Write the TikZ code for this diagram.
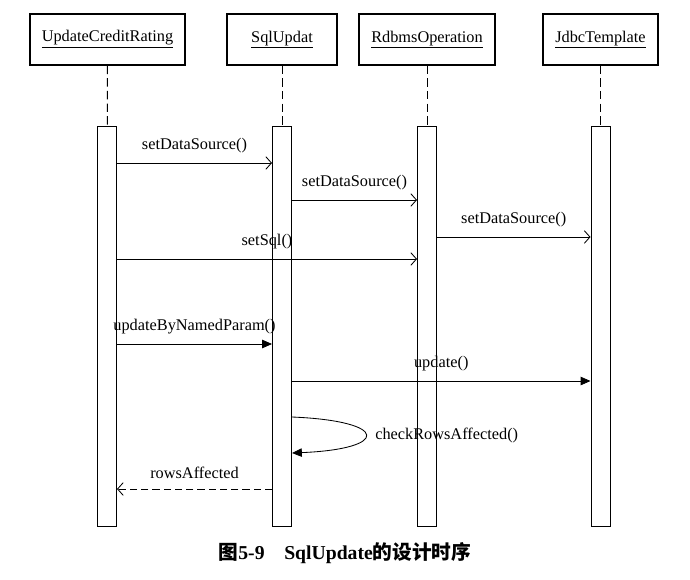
\documentclass[tikz,border=0pt]{standalone}
\usepackage{fontspec}
\setmainfont{Liberation Serif}
\newfontfamily\cjk{Noto Sans CJK SC}
\usetikzlibrary{arrows.meta,positioning}

\begin{document}
\begin{tikzpicture}[x=0.025cm,y=-0.025cm,font=\fontsize{11.6}{14}\selectfont,
    obj/.style={draw,line width=0.8pt,minimum height=1.275cm,inner sep=0pt},
    bar/.style={draw,fill=white,line width=0.7pt,minimum width=0.475cm,minimum height=9.975cm,inner sep=0pt},
    life/.style={line width=0.7pt,dash pattern=on 6pt off 3pt},
    msg/.style={-{Straight Barb[length=4pt,width=9pt]},line width=0.6pt},
    call/.style={-{Triangle[length=7pt,width=6pt]},line width=0.6pt},
    ret/.style={msg,dash pattern=on 5pt off 3pt},
    lbl/.style={above=7pt,inner sep=0pt}]
    \useasboundingbox (0,0) rectangle (690,579);
    % objects
    \node[obj,minimum width=3.875cm] (ucr) at (107.5,39.5) {\underline{UpdateCreditRating}};
    \node[obj,minimum width=2.75cm] (su) at (282,39.5) {\underline{SqlUpdat}};
    \node[obj,minimum width=3.4cm] (ro) at (427,39.5) {\underline{RdbmsOperation}};
    \node[obj,minimum width=2.875cm] (jt) at (600.5,39.5) {\underline{JdbcTemplate}};
    % activations
    \node[bar] (ucr_b) at (107,326.5) {};
    \node[bar] (su_b) at (282,326.5) {};
    \node[bar] (ro_b) at (427,326.5) {};
    \node[bar] (jt_b) at (600.5,326.5) {};
    \draw[life] (ucr) -- (ucr_b);
    \draw[life] (su) -- (su_b);
    \draw[life] (ro) -- (ro_b);
    \draw[life] (jt) -- (jt_b);
    % messages
    \draw[msg] (ucr_b.east |- 0,163) -- node[lbl] {setDataSource()} (su_b.west |- 0,163);
    \draw[msg] (su_b.east |- 0,200) -- node[lbl] {setDataSource()} (ro_b.west |- 0,200);
    \draw[msg] (ro_b.east |- 0,237) -- node[lbl] {setDataSource()} (jt_b.west |- 0,237);
    \draw[msg] (ucr_b.east |- 0,259) -- node[lbl] {setSql()} (ro_b.west |- 0,259);
    \draw[call] (ucr_b.east |- 0,344) -- node[lbl] {updateByNamedParam()} (su_b.west |- 0,344);
    \draw[call] (su_b.east |- 0,381) -- node[lbl] {update()} (jt_b.west |- 0,381);
    \draw[call] (su_b.east |- 0,417) .. controls (390,421) and (390,449) .. (su_b.east |- 0,453);
    \node[anchor=west,inner sep=0pt] (chk) at (375,435) {checkRowsAffected()};
    \draw[ret] (su_b.west |- 0,489) -- node[lbl] {rowsAffected} (ucr_b.east |- 0,489);
    % caption
    \node (cap) at (345,553) {\fontsize{14}{16}\selectfont\bfseries\cjk 图\rmfamily 5-9\quad SqlUpdate\cjk 的设计时序};
\end{tikzpicture}
\end{document}
